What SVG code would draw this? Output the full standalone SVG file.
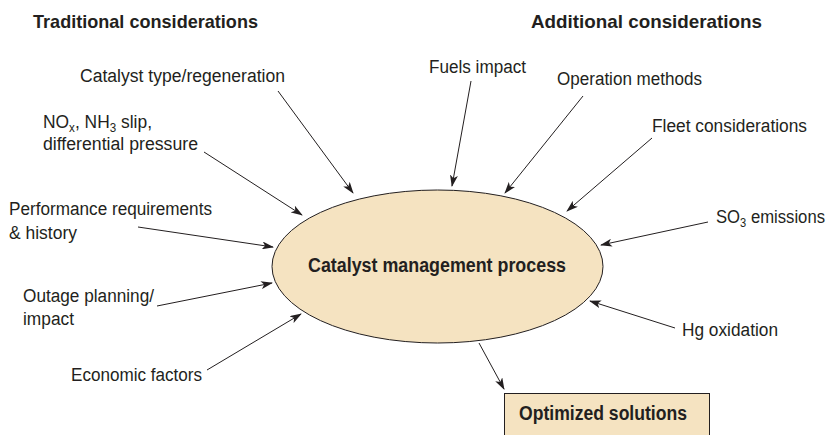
<svg xmlns="http://www.w3.org/2000/svg" width="827" height="435" viewBox="0 0 827 435">
<defs>
<style>
.t{font-family:"Liberation Sans",Arial,sans-serif;font-size:18px;fill:#231f20}
.h{font-family:"Liberation Sans",Arial,sans-serif;font-size:19px;font-weight:bold;fill:#231f20}
.b{font-family:"Liberation Sans",Arial,sans-serif;font-size:20px;font-weight:bold;fill:#231f20}
.sub{font-size:12px}
.c{stroke:#231f20;stroke-width:1;fill:none;marker-end:url(#ah)}
.n{fill:#f5e3c1;stroke:#231f20;stroke-width:1}
</style>
<marker id="ah" viewBox="0 0 12 8" refX="11" refY="4" markerWidth="12" markerHeight="8" markerUnits="userSpaceOnUse" orient="auto">
<path d="M0,0 L12,4 L0,8 L3,4 Z" fill="#231f20"/>
</marker>
</defs>
<rect width="827" height="435" fill="#ffffff"/>
<g id="headers">
<text class="h" x="33" y="28" textLength="225" lengthAdjust="spacingAndGlyphs">Traditional considerations</text>
<text class="h" x="531" y="28" textLength="231" lengthAdjust="spacingAndGlyphs">Additional considerations</text>
</g>
<g id="connectors">
<line class="c" x1="278" y1="91" x2="353" y2="193"/>
<line class="c" x1="204" y1="152" x2="302" y2="215"/>
<line class="c" x1="138" y1="227" x2="273" y2="247"/>
<line class="c" x1="157" y1="306" x2="272" y2="283"/>
<line class="c" x1="207" y1="370" x2="301" y2="314"/>
<line class="c" x1="471" y1="81" x2="452" y2="186"/>
<line class="c" x1="583" y1="96" x2="505" y2="193"/>
<line class="c" x1="652" y1="138" x2="567" y2="211"/>
<line class="c" x1="708" y1="222" x2="601" y2="245"/>
<line class="c" x1="675" y1="328" x2="590" y2="301"/>
<line class="c" x1="479" y1="343" x2="504" y2="389"/>
</g>
<g id="process">
<ellipse class="n" cx="437.5" cy="266.5" rx="165.5" ry="76.5"/>
<text class="b" x="308" y="272" textLength="258" lengthAdjust="spacingAndGlyphs">Catalyst management process</text>
</g>
<g id="optimized">
<rect class="n" x="504.5" y="393.5" width="205" height="50"/>
<text class="b" x="519" y="420" textLength="168" lengthAdjust="spacingAndGlyphs">Optimized solutions</text>
</g>
<g id="catalyst-type"><text class="t" x="80" y="82" textLength="205" lengthAdjust="spacingAndGlyphs">Catalyst type/regeneration</text></g>
<g id="nox">
<text class="t" x="43" y="128" textLength="109" lengthAdjust="spacingAndGlyphs">NO<tspan class="sub" dy="4">x</tspan><tspan dy="-4">, NH</tspan><tspan class="sub" dy="4">3</tspan><tspan dy="-4"> slip,</tspan></text>
<text class="t" x="43" y="150" textLength="155" lengthAdjust="spacingAndGlyphs">differential pressure</text>
</g>
<g id="performance">
<text class="t" x="9" y="215" textLength="203" lengthAdjust="spacingAndGlyphs">Performance requirements</text>
<text class="t" x="9" y="239" textLength="68" lengthAdjust="spacingAndGlyphs">&amp; history</text>
</g>
<g id="outage">
<text class="t" x="23" y="302" textLength="131" lengthAdjust="spacingAndGlyphs">Outage planning/</text>
<text class="t" x="23" y="325" textLength="51" lengthAdjust="spacingAndGlyphs">impact</text>
</g>
<g id="economic"><text class="t" x="71" y="381" textLength="131" lengthAdjust="spacingAndGlyphs">Economic factors</text></g>
<g id="fuels"><text class="t" x="429" y="73" textLength="97" lengthAdjust="spacingAndGlyphs">Fuels impact</text></g>
<g id="operation"><text class="t" x="557" y="85" textLength="145" lengthAdjust="spacingAndGlyphs">Operation methods</text></g>
<g id="fleet"><text class="t" x="652" y="132" textLength="155" lengthAdjust="spacingAndGlyphs">Fleet considerations</text></g>
<g id="so3"><text class="t" x="716" y="223" textLength="109" lengthAdjust="spacingAndGlyphs">SO<tspan class="sub" dy="4">3</tspan><tspan dy="-4"> emissions</tspan></text></g>
<g id="hg"><text class="t" x="682" y="336" textLength="96" lengthAdjust="spacingAndGlyphs">Hg oxidation</text></g>
</svg>
